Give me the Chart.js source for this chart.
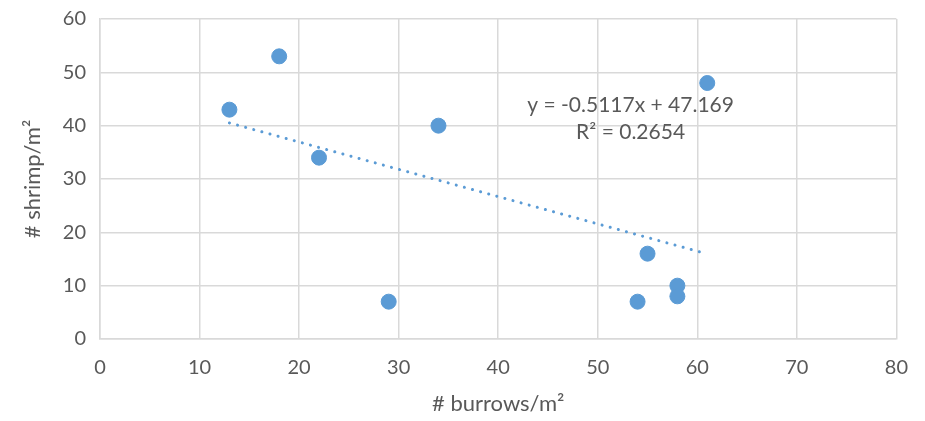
<!DOCTYPE html>
<html>
<head>
<meta charset="utf-8">
<script src="https://cdn.jsdelivr.net/npm/chart.js@4.4.1/dist/chart.umd.min.js"></script>
<style>
  html, body { margin: 0; padding: 0; background: #fff; }
  #wrap { width: 925px; height: 421px; }
</style>
</head>
<body>
<div id="wrap"><canvas id="chart"></canvas></div>
<script>
// values
const burrows = [13, 18, 22, 29, 34, 54, 55, 58, 58, 61];
const shrimp = [43, 53, 34, 7, 40, 7, 16, 10, 8, 48];
const slope = -0.5117;
const intercept = 47.169;
const eqLines = ['y = -0.5117x + 47.169', 'R\u00B2 = 0.2654'];

const points = burrows.map((x, i) => ({ x: x, y: shrimp[i] }));
const xMin = Math.min(...burrows);
const xMax = Math.max(...burrows);
const trend = [
  { x: xMin, y: slope * xMin + intercept },
  { x: xMax - 0.5, y: slope * (xMax - 0.5) + intercept }
];

const font = 'Lato, "Open Sans", sans-serif';
const textColor = '#595959';

// equation label, placed in data coordinates
const eqLabel = {
  id: 'eqLabel',
  afterDatasetsDraw(chart) {
    const { ctx, scales } = chart;
    ctx.save();
    ctx.font = '21px ' + font;
    ctx.fillStyle = textColor;
    ctx.textAlign = 'center';
    ctx.textBaseline = 'middle';
    ctx.fillText(eqLines[0], scales.x.getPixelForValue(53.3), scales.y.getPixelForValue(43.9));
    ctx.fillText(eqLines[1], scales.x.getPixelForValue(53.3), scales.y.getPixelForValue(38.7));
    ctx.restore();
  }
};

new Chart(document.getElementById('chart'), {
  type: 'scatter',
  data: {
    datasets: [
      {
        label: 'shrimp',
        data: points,
        backgroundColor: '#5b9bd5',
        borderColor: '#5b9bd5',
        pointRadius: 7.5,
        pointHoverRadius: 7.5,
        order: 1
      },
      {
        type: 'line',
        label: 'trend',
        data: trend,
        borderColor: '#5b9bd5',
        borderWidth: 3,
        borderDash: [0.1, 8.3],
        borderCapStyle: 'round',
        pointRadius: 0,
        fill: false,
        order: 2
      }
    ]
  },
  options: {
    responsive: true,
    maintainAspectRatio: false,
    animation: false,
    layout: { padding: { left: 16, right: 28, top: 19, bottom: 0 } },
    plugins: {
      legend: { display: false },
      tooltip: { enabled: false }
    },
    scales: {
      x: {
        type: 'linear',
        min: 0,
        max: 80,
        ticks: { stepSize: 10, color: textColor, font: { family: font, size: 20 }, padding: 17 },
        grid: { color: '#d9d9d9', lineWidth: 1.5, drawTicks: false },
        border: { color: '#d9d9d9', width: 1.5 },
        title: { display: true, text: '# burrows/m\u00B2', color: textColor, font: { family: font, size: 22 }, padding: { top: 14 } },
        afterFit(scale) { scale.height = 82; }
      },
      y: {
        min: 0,
        max: 60,
        ticks: { stepSize: 10, color: textColor, font: { family: font, size: 20 }, padding: 14 },
        grid: { color: '#d9d9d9', lineWidth: 1.5, drawTicks: false },
        border: { color: '#d9d9d9', width: 1.5 },
        title: { display: true, text: '# shrimp/m\u00B2', color: textColor, font: { family: font, size: 22 } },
        afterFit(scale) { scale.width = 84; scale.paddingTop = 0; }
      }
    }
  },
  plugins: [eqLabel]
});
</script>
</body>
</html>
